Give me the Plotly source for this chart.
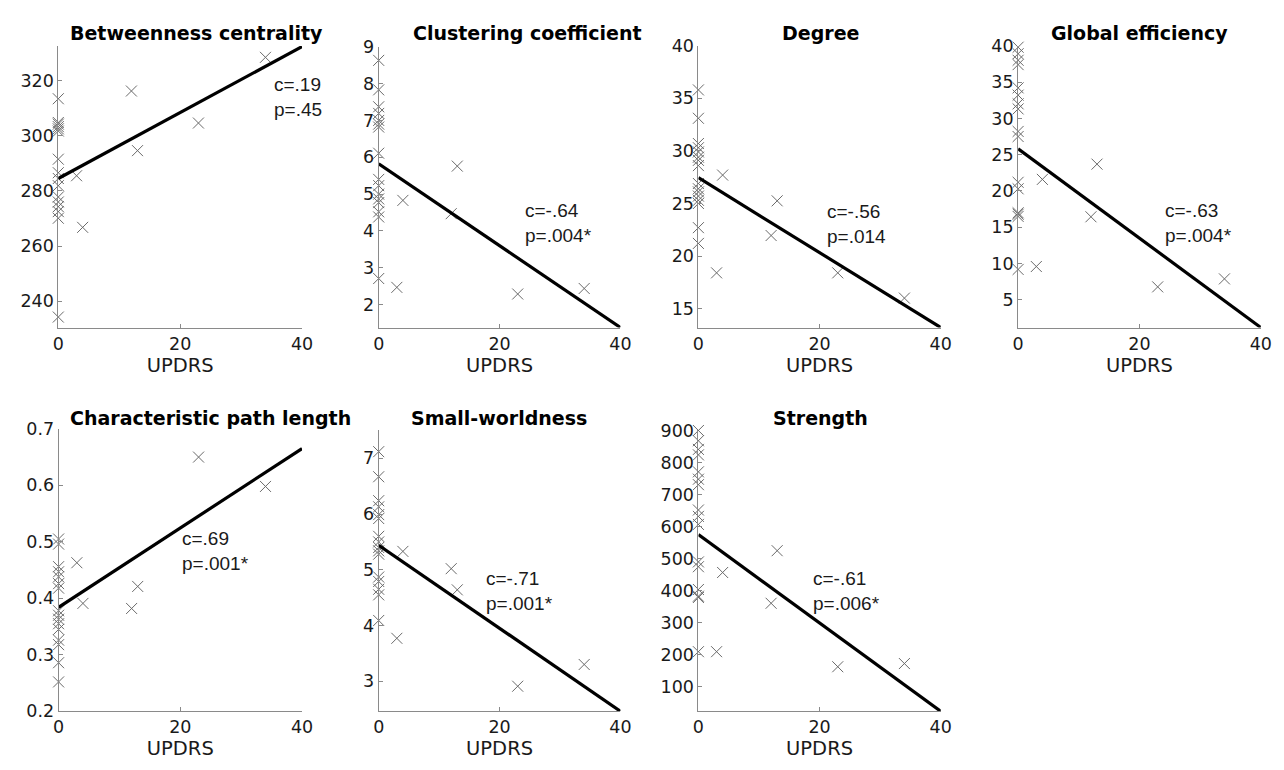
import plotly.graph_objects as go

# ---------------- data ----------------
updrs = [0, 0, 0, 0, 0, 0, 0, 0, 0, 0, 0, 0, 0, 0, 0, 0, 3, 4, 12, 13, 23, 34]

betweenness = [313.4, 304.8, 304.2, 303.3, 302.5, 301.7, 291.5, 286.6, 284.5, 281.9,
               277.8, 276.0, 274.3, 272.5, 270.1, 234.3, 285.5, 266.8, 316.2, 294.6, 304.6, 328.4]
clustering = [8.63, 7.83, 7.37, 7.19, 7.00, 6.90, 6.82, 6.11, 5.40, 5.23,
              5.00, 4.87, 4.77, 4.52, 4.38, 2.71, 2.47, 4.83, 4.47, 5.76, 2.29, 2.44]
degree = [35.8, 33.1, 30.7, 30.3, 29.9, 29.4, 29.1, 28.6, 26.9, 26.4,
          26.1, 25.7, 25.3, 25.0, 22.7, 21.2, 18.4, 27.7, 21.95, 25.25, 18.4, 16.0]
global_eff = [39.8, 38.9, 38.0, 37.4, 34.2, 33.2, 32.0, 31.3, 28.2, 27.5,
              21.2, 20.3, 17.0, 16.8, 16.5, 9.2, 9.6, 21.6, 16.45, 23.7, 6.8, 7.9]
path_length = [0.505, 0.496, 0.456, 0.447, 0.438, 0.426, 0.418, 0.378, 0.370, 0.363,
               0.355, 0.345, 0.326, 0.318, 0.286, 0.252, 0.463, 0.391, 0.382, 0.421, 0.650, 0.598]
small_world = [7.12, 6.67, 6.24, 6.13, 5.99, 5.92, 5.60, 5.50, 5.40, 5.34,
               5.28, 4.87, 4.79, 4.65, 4.55, 4.09, 3.77, 5.33, 5.02, 4.64, 2.91, 3.30]
strength = [900, 868, 841, 824, 771, 748, 731, 652, 632, 607,
            490, 475, 404, 383, 379, 210, 210, 457, 361, 525, 163, 173]

fit_x = [0, 40]
fit_betweenness = [284.5, 332.3]
fit_clustering = [5.82, 1.38]
fit_degree = [27.45, 13.2]
fit_global_eff = [25.8, 1.2]
fit_path_length = [0.384, 0.665]
fit_small_world = [5.44, 2.46]
fit_strength = [575, 24]

titles = ["Betweenness centrality", "Clustering coefficient", "Degree", "Global efficiency",
          "Characteristic path length", "Small-worldness", "Strength"]
stats_c = ["c=.19", "c=-.64", "c=-.56", "c=-.63", "c=.69", "c=-.71", "c=-.61"]
stats_p = ["p=.45", "p=.004*", "p=.014", "p=.004*", "p=.001*", "p=.001*", "p=.006*"]
x_ticks = [0, 20, 40]
y_ticks = [
    [240, 260, 280, 300, 320],
    [2, 3, 4, 5, 6, 7, 8, 9],
    [15, 20, 25, 30, 35, 40],
    [5, 10, 15, 20, 25, 30, 35, 40],
    [0.2, 0.3, 0.4, 0.5, 0.6, 0.7],
    [3, 4, 5, 6, 7],
    [100, 200, 300, 400, 500, 600, 700, 800, 900],
]
y_tick_text = [
    None, None, None, None,
    ["0.2", "0.3", "0.4", "0.5", "0.6", "0.7"],
    None, None,
]

# ---------------- layout / style ----------------
W, H = 1284, 770
metrics = [betweenness, clustering, degree, global_eff, path_length, small_world, strength]
fits = [fit_betweenness, fit_clustering, fit_degree, fit_global_eff,
        fit_path_length, fit_small_world, fit_strength]
y_ranges = [[230.5, 332.5], [1.38, 9.0], [13.2, 40.0], [1.2, 40.0],
            [0.2, 0.7], [2.46, 7.5], [24, 900]]
# pixel boxes: (left, right, top, bottom)
boxes = [(53, 300, 37, 326), (377.7, 622.7, 37.7, 326), (701.7, 947.3, 36.7, 326),
         (1025.7, 1271.7, 36.7, 326),
         (53.3, 300, 430, 720), (377.7, 622.7, 431.7, 720), (701.7, 947.3, 431.7, 720)]
title_pos = [(193, 24), (528, 24), (825, 24), (1149, 24),
             (207.5, 419), (500, 419), (825, 419)]
stat_pos = [(35.0, 314.0), (23.8, 4.22), (20.9, 23.0), (23.8, 15.65),
            (20.0, 0.483), (17.4, 4.62), (18.6, 400)]

axis_color = "#8a8a8a"
text_color = "#1a1a1a"
marker_color = "#6a6a6a"
tick_font = dict(family="DejaVu Sans", size=17.5, color=text_color)

fig = go.Figure()
annotations = []
layout_axes = {}

for i in range(7):
    n = i + 1
    xa = "x" if n == 1 else f"x{n}"
    ya = "y" if n == 1 else f"y{n}"
    fig.add_trace(go.Scatter(
        x=updrs, y=metrics[i], mode="markers", xaxis=xa, yaxis=ya,
        marker=dict(symbol="x-thin", size=11, color=marker_color,
                    line=dict(width=1, color=marker_color)),
        cliponaxis=False, showlegend=False, hoverinfo="x+y"))
    fig.add_trace(go.Scatter(
        x=fit_x, y=fits[i], mode="lines", xaxis=xa, yaxis=ya,
        line=dict(color="black", width=3.2),
        cliponaxis=False, showlegend=False))

    l, r, t, b = boxes[i]
    xkey = "xaxis" if n == 1 else f"xaxis{n}"
    ykey = "yaxis" if n == 1 else f"yaxis{n}"
    layout_axes[xkey] = dict(
        domain=[l / W, r / W], anchor=ya, range=[0, 40.0001],
        tickvals=x_ticks, ticks="inside", ticklen=4, tickcolor=axis_color,
        showline=True, linecolor=axis_color, linewidth=1, showgrid=False, zeroline=False,
        tickfont=tick_font,
        title=dict(text="UPDRS", font=dict(family="DejaVu Sans", size=19.5, color=text_color),
                   standoff=0))
    yax = dict(
        domain=[1 - b / H, 1 - t / H], anchor=xa,
        range=[y_ranges[i][0], y_ranges[i][1] + (y_ranges[i][1] - y_ranges[i][0]) * 1e-6],
        tickvals=y_ticks[i], ticks="inside", ticklen=4, tickcolor=axis_color,
        showline=True, linecolor=axis_color, linewidth=1, showgrid=False, zeroline=False,
        tickfont=tick_font)
    if y_tick_text[i] is not None:
        yax["ticktext"] = y_tick_text[i]
    layout_axes[ykey] = yax

    tx, ty = title_pos[i]
    annotations.append(dict(
        text=f"<b>{titles[i]}</b>", x=tx / W, y=1 - ty / H, xref="paper", yref="paper",
        xanchor="center", yanchor="middle", showarrow=False,
        font=dict(family="DejaVu Sans", size=19, color="black")))
    sx, sy = stat_pos[i]
    annotations.append(dict(
        text=f"{stats_c[i]}<br>{stats_p[i]}", x=sx, y=sy, xref=xa, yref=ya,
        xanchor="left", yanchor="middle", align="left", showarrow=False,
        font=dict(family="Liberation Sans", size=19, color=text_color)))

fig.update_layout(
    width=W, height=H, margin=dict(l=0, r=0, t=0, b=0),
    paper_bgcolor="white", plot_bgcolor="white",
    annotations=annotations, **layout_axes)

fig.write_html(
    "out.html",
    config={"displayModeBar": False},
    post_script="document.body.style.margin='0';document.body.style.overflow='hidden';")
